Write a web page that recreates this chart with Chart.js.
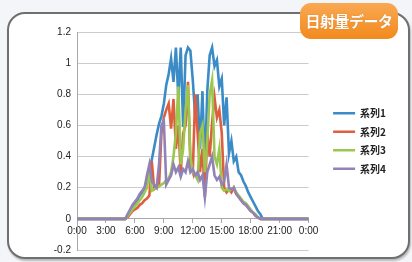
<!DOCTYPE html>
<html>
<head>
<meta charset="utf-8">
<script src="https://cdn.jsdelivr.net/npm/chart.js@4.4.1/dist/chart.umd.min.js"></script>
<style>
html, body { margin: 0; padding: 0; background: #f3f5f9; }
#wrap { position: relative; width: 412px; height: 262px; overflow: hidden; }
#card {
    position: absolute; left: 7px; top: 12px; width: 399px; height: 243px;
    border: 2px solid #6f6f6f; border-radius: 18px; background: #fff;
    box-shadow: 1px 2px 2px rgba(0,0,0,0.25);
}
#badge {
    position: absolute; left: 300px; top: 3px; width: 98px; height: 36px;
    border-radius: 11px; background: linear-gradient(#f9a853, #f28a1c);
    color: #fff; font: bold 15px "Noto Sans CJK JP", sans-serif;
    text-align: center; line-height: 36px; letter-spacing: -0.5px;
    text-shadow: 0 0 1px rgba(150,70,0,0.5);
}
#plot { position: absolute; left: 0; top: 0; }
</style>
</head>
<body>
<div id="wrap">
    <div id="card"></div>
    <canvas id="plot" width="412" height="262"></canvas>
    <div id="badge">日射量データ</div>
</div>
<script>
// time of day in hours (0:00 .. 24:00)
const hours = [0,
    5, 5.25, 5.5, 5.75, 6, 6.25, 6.5, 6.75, 7, 7.25, 7.5, 7.75,
    8, 8.25, 8.5, 8.75, 9, 9.25, 9.5, 9.75, 10, 10.25, 10.5, 10.75,
    11, 11.25, 11.5, 11.75, 12, 12.25, 12.5, 12.75, 13, 13.25, 13.5, 13.75,
    14, 14.25, 14.5, 14.75, 15, 15.25, 15.5, 15.75, 16, 16.25, 16.5, 16.75,
    17, 17.25, 17.5, 17.75, 18, 18.25, 18.5, 18.75, 19, 19.25, 19.5,
    24];

const seriesNames = ["系列1", "系列2", "系列3", "系列4"];
const seriesColors = ["#3b8bc6", "#dc5f3f", "#9cc74e", "#9183b7"];

const series1 = [0,
    0.00, 0.02, 0.05, 0.08, 0.10, 0.12, 0.15, 0.17, 0.20, 0.24, 0.30, 0.38,
    0.46, 0.54, 0.61, 0.66, 0.74, 0.86, 0.93, 1.03, 0.88, 1.10, 0.78, 1.10,
    0.59, 1.05, 1.10, 1.08, 0.89, 0.66, 0.80, 0.45, 0.82, 0.30, 0.82, 1.05,
    1.10, 0.98, 1.02, 0.85, 0.90, 0.60, 0.78, 0.42, 0.50, 0.37, 0.40, 0.30,
    0.28, 0.24, 0.21, 0.17, 0.14, 0.11, 0.08, 0.05, 0.03, 0.00, 0.00,
    0];
const series2 = [0,
    0.00, 0.01, 0.03, 0.05, 0.06, 0.07, 0.09, 0.10, 0.12, 0.13, 0.15, 0.37,
    0.19, 0.20, 0.21, 0.55, 0.65, 0.70, 0.74, 0.58, 0.77, 0.45, 0.60, 0.30,
    0.55, 0.60, 0.88, 0.35, 0.30, 0.80, 0.55, 0.30, 0.45, 0.14, 0.55, 0.40,
    0.62, 0.78, 0.65, 0.70, 0.55, 0.20, 0.17, 0.19, 0.17, 0.20, 0.16, 0.14,
    0.12, 0.10, 0.09, 0.07, 0.05, 0.04, 0.02, 0.01, 0.00, 0.00, 0.00,
    0];
const series3 = [0,
    0.00, 0.02, 0.04, 0.06, 0.08, 0.10, 0.12, 0.14, 0.17, 0.20, 0.30, 0.18,
    0.19, 0.20, 0.21, 0.22, 0.23, 0.25, 0.26, 0.30, 0.40, 0.55, 0.85, 0.35,
    0.45, 0.70, 0.86, 0.40, 0.30, 0.28, 0.25, 0.55, 0.60, 0.30, 0.50, 0.80,
    0.89, 0.40, 0.35, 0.45, 0.20, 0.18, 0.19, 0.18, 0.19, 0.20, 0.17, 0.15,
    0.13, 0.11, 0.10, 0.08, 0.06, 0.04, 0.03, 0.01, 0.00, 0.00, 0.00,
    0];
const series4 = [0,
    0.00, 0.03, 0.06, 0.09, 0.11, 0.13, 0.16, 0.18, 0.20, 0.28, 0.35, 0.24,
    0.22, 0.20, 0.35, 0.60, 0.63, 0.22, 0.25, 0.28, 0.35, 0.30, 0.33, 0.27,
    0.32, 0.30, 0.37, 0.30, 0.32, 0.28, 0.30, 0.25, 0.28, 0.14, 0.30, 0.35,
    0.40, 0.28, 0.25, 0.27, 0.22, 0.24, 0.35, 0.20, 0.19, 0.20, 0.16, 0.14,
    0.12, 0.10, 0.09, 0.07, 0.05, 0.04, 0.02, 0.01, 0.00, 0.00, 0.00,
    0];

const xTickLabels = ["0:00", "3:00", "6:00", "9:00", "12:00", "15:00", "18:00", "21:00", "0:00"];
const yTickLabels = ["-0.2", "0", "0.2", "0.4", "0.6", "0.8", "1", "1.2"];

const allSeries = [series1, series2, series3, series4];

const datasets = allSeries.map((s, i) => ({
    label: seriesNames[i],
    data: hours.map((h, k) => ({x: h, y: s[k]})),
    borderColor: seriesColors[i],
    backgroundColor: seriesColors[i],
    borderWidth: 2.6,
    pointRadius: 0,
    tension: 0,
    order: 3 - i   // later series drawn on top, like the original
}));

const tickFont = {family: "'Liberation Sans', sans-serif", size: 10};

new Chart(document.getElementById("plot"), {
    type: "line",
    data: {datasets: datasets},
    options: {
        responsive: false,
        animation: false,
        layout: {padding: {left: 40, top: 32, right: 16, bottom: 12}},
        scales: {
            x: {
                type: "linear",
                min: 0, max: 24,
                position: {y: 0},
                ticks: {
                    stepSize: 3,
                    autoSkip: false,
                    font: tickFont, color: "#222", padding: 2,
                    maxRotation: 0,
                    callback: (v) => xTickLabels[Math.round(v / 3)]
                },
                grid: {drawOnChartArea: false, drawTicks: true, tickLength: 4, color: "#a8a8a8"},
                border: {color: "#a8a8a8"}
            },
            y: {
                min: -0.2, max: 1.2,
                ticks: {
                    stepSize: 0.2,
                    font: tickFont, color: "#222", padding: 6,
                    callback: (v) => yTickLabels[Math.round((v + 0.2) / 0.2)]
                },
                grid: {color: "#cccccc", drawTicks: false},
                border: {color: "#a8a8a8"},
                afterFit: (s) => { s.width = 37; }
            },
            // empty spacer between the plot and the legend
            yR: {
                position: "right",
                ticks: {display: false},
                grid: {display: false},
                border: {display: false},
                afterFit: (s) => { s.width = 16; }
            }
        },
        plugins: {
            legend: {
                position: "right",
                maxWidth: 90,
                labels: {
                    usePointStyle: true,
                    pointStyle: "line",
                    pointStyleWidth: 22,
                    padding: 8.5,
                    color: "#222",
                    font: {family: "'Noto Sans CJK JP', sans-serif", size: 10, weight: "bold"},
                    sort: (a, b) => a.datasetIndex - b.datasetIndex
                }
            },
            tooltip: {enabled: false}
        }
    }
});
</script>
</body>
</html>
